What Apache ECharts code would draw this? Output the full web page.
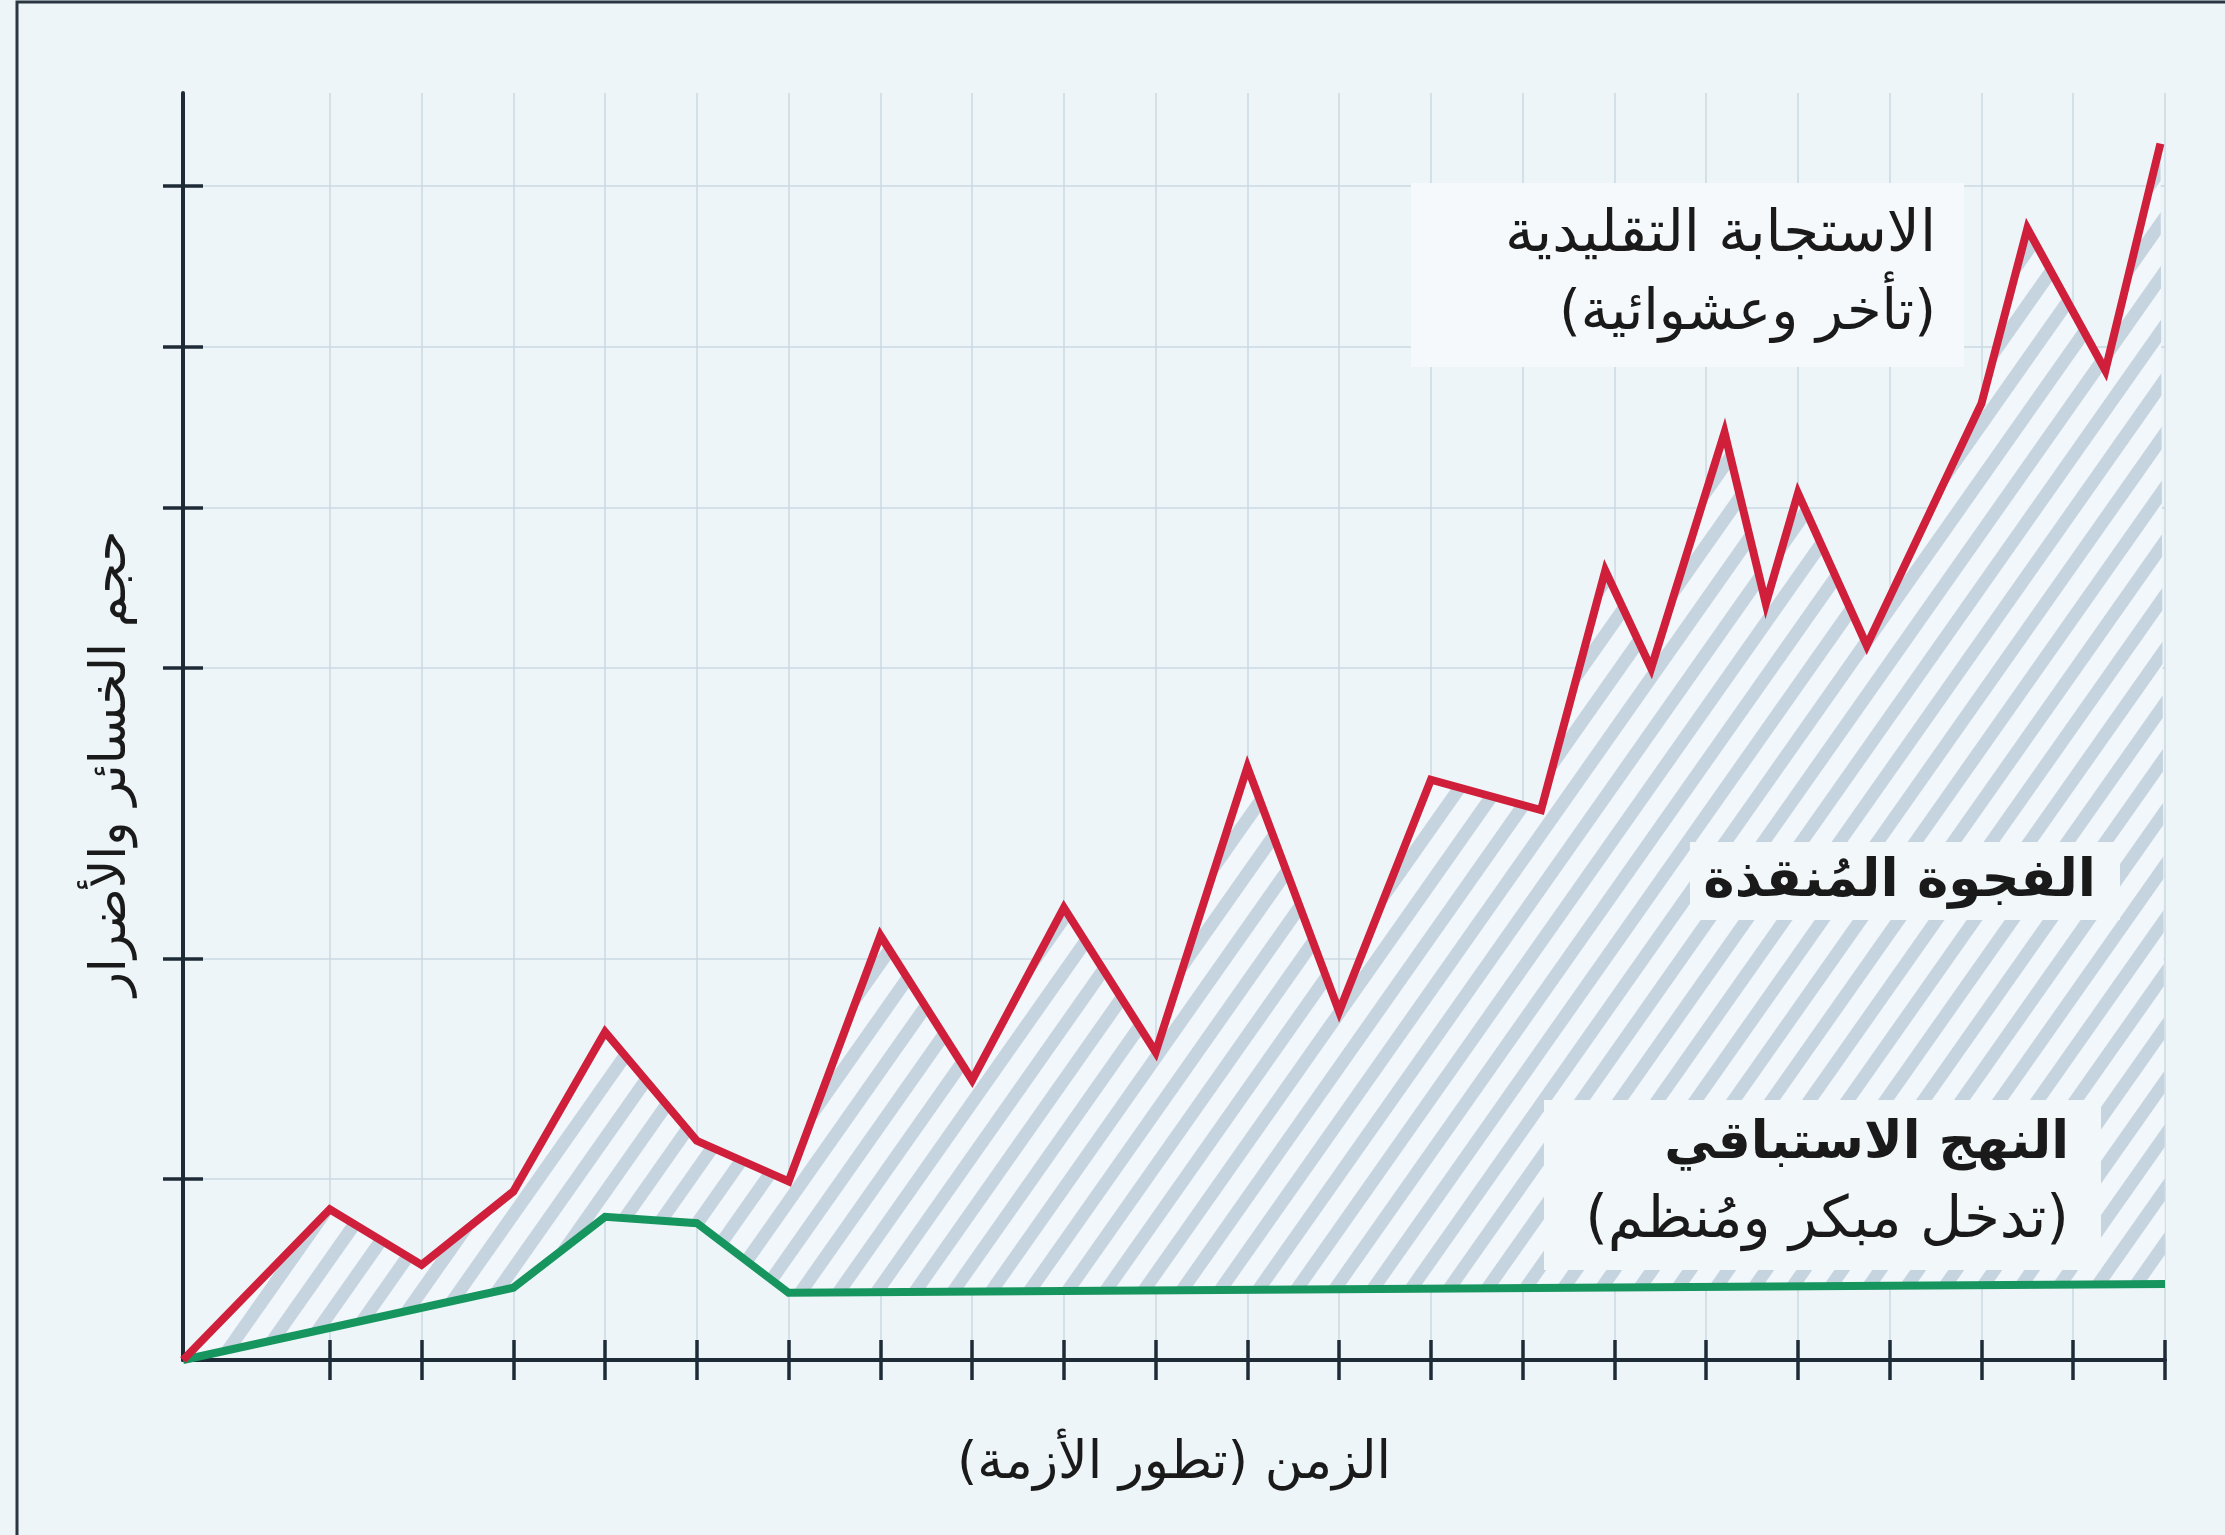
<!DOCTYPE html>
<html>
<head>
<meta charset="utf-8">
<title>الفجوة المنقذة</title>
<script src="https://cdn.jsdelivr.net/npm/echarts@6/dist/echarts.min.js"></script>
<style>
html, body { margin: 0; padding: 0; background: #edf5f9; }
#chart { width: 2225px; height: 1535px; }
</style>
</head>
<body>
<div id="chart"></div>
<script>
// time runs in grid steps, losses on a 0..100 scale
var xTicks = [1.6, 2.6, 3.6, 4.6, 5.6, 6.6, 7.6, 8.6, 9.6, 10.6, 11.6, 12.6, 13.6, 14.6, 15.6, 16.6, 17.6, 18.6, 19.6, 20.6, 21.6];
var yTicks = [14.3, 31.7, 54.6, 67.3, 80.0, 92.7];

// traditional response (red)
var redX = [0, 1.6, 2.6, 3.6, 4.6, 5.6, 6.6, 7.6, 8.6, 9.6, 10.6, 11.6, 12.6, 13.6, 14.8, 15.5, 16.0, 16.8, 17.25, 17.6, 18.35, 19.6, 20.1, 20.95, 21.55];
var redY = [0, 11.9, 7.5, 13.3, 25.9, 17.3, 14.1, 33.5, 22.1, 35.7, 24.3, 46.8, 27.5, 45.8, 43.4, 62.3, 54.6, 73.2, 59.7, 68.4, 56.4, 75.5, 89.3, 78.1, 96.0];

// proactive approach (green)
var greenX = [0, 3.6, 4.6, 5.6, 6.6, 21.6];
var greenY = [0, 5.7, 11.3, 10.8, 5.3, 6.0];

function pairs(xs, ys) {
	var res = [];
	for (var i = 0; i < xs.length; i++) {
		res.push([xs[i], ys[i]]);
	}
	return res;
}

// diagonal hatch tile
function stripes() {
	var w = 38, h = 54;
	var c = document.createElement('canvas');
	c.width = w; c.height = h;
	var g = c.getContext('2d');
	g.fillStyle = '#f1f7fa';
	g.fillRect(0, 0, w, h);
	g.strokeStyle = '#c5d4df';
	g.lineWidth = 13;
	for (var i = -3; i <= 3; i++) {
		g.beginPath();
		g.moveTo(i * w - w, 2 * h);
		g.lineTo(i * w + 2 * w, -h);
		g.stroke();
	}
	return c;
}
var hatch = { image: stripes(), repeat: 'repeat' };

var axisColor = '#1e2b37';
var font = '"DejaVu Sans", sans-serif';

var chart = echarts.init(document.getElementById('chart'));
var option = {
	backgroundColor: '#edf5f9',
	animation: false,
	grid: { left: 183, right: 60, top: 93, bottom: 175, outerBoundsMode: 'none' },
	xAxis: [{
		type: 'value', min: 0, max: 21.6, position: 'bottom',
		axisLine: { show: true, lineStyle: { color: axisColor, width: 4 } },
		axisTick: { show: true, customValues: xTicks, length: 20, lineStyle: { color: axisColor, width: 3.5 } },
		axisLabel: { show: false },
		splitLine: { show: true, lineStyle: { color: '#cbd8e2', width: 1.5 } },
		name: 'الزمن (تطور الأزمة)',
		nameLocation: 'middle',
		nameGap: 78,
		nameTextStyle: { fontFamily: font, fontSize: 52, color: '#1a1a1a' }
	}, {
		type: 'value', min: 0, max: 21.6, position: 'bottom',
		axisLine: { show: false },
		axisTick: { show: true, inside: true, customValues: xTicks, length: 20, lineStyle: { color: axisColor, width: 3.5 } },
		axisLabel: { show: false },
		splitLine: { show: false }
	}],
	yAxis: [{
		type: 'value', min: 0, max: 100, position: 'left',
		axisLine: { show: true, lineStyle: { color: axisColor, width: 4 } },
		axisTick: { show: true, customValues: yTicks, length: 20, lineStyle: { color: axisColor, width: 3.5 } },
		axisLabel: { show: false },
		splitLine: { show: true, lineStyle: { color: '#cbd8e2', width: 1.5 } },
		name: 'حجم الخسائر والأضرار',
		nameLocation: 'middle',
		nameRotate: 90,
		nameGap: 46,
		nameTextStyle: { fontFamily: font, fontSize: 50, color: '#1a1a1a', padding: [0, 74, 0, 0] }
	}, {
		type: 'value', min: 0, max: 100, position: 'left',
		axisLine: { show: false },
		axisTick: { show: true, inside: true, customValues: yTicks, length: 20, lineStyle: { color: axisColor, width: 3.5 } },
		axisLabel: { show: false },
		splitLine: { show: false }
	}],
	series: [{
		// the saved gap between the two responses
		name: 'الفجوة المنقذة',
		type: 'custom',
		data: [[0, 0]],
		encode: { x: 0, y: 1 },
		silent: true,
		z: 1,
		renderItem: function (params, api) {
			var pts = [];
			for (var i = 0; i < redX.length; i++) {
				pts.push(api.coord([redX[i], redY[i]]));
			}
			for (var j = greenX.length - 1; j >= 0; j--) {
				pts.push(api.coord([greenX[j], greenY[j]]));
			}
			return { type: 'polygon', shape: { points: pts }, style: { fill: hatch } };
		}
	}, {
		name: 'النهج الاستباقي',
		type: 'line',
		data: pairs(greenX, greenY),
		symbol: 'none',
		lineStyle: { color: '#17955f', width: 8, join: 'miter' },
		z: 3
	}, {
		name: 'الاستجابة التقليدية',
		type: 'line',
		data: pairs(redX, redY),
		symbol: 'none',
		lineStyle: { color: '#cf1f3b', width: 8, join: 'miter' },
		z: 4
	}],
	graphic: [
		{ type: 'rect', z: 50, silent: true, shape: { x: 1411, y: 183, width: 553, height: 184 }, style: { fill: '#f5f9fb' } },
		{ type: 'text', z: 51, x: 1936, y: 236, style: { text: 'الاستجابة التقليدية', font: '58px ' + font, fill: '#1a1a1a', align: 'right', verticalAlign: 'middle' } },
		{ type: 'text', z: 51, x: 1936, y: 314, style: { text: '(تأخر وعشوائية)', font: '56px ' + font, fill: '#1a1a1a', align: 'right', verticalAlign: 'middle' } },

		{ type: 'rect', z: 50, silent: true, shape: { x: 1690, y: 842, width: 430, height: 78 }, style: { fill: '#f2f7fa' } },
		{ type: 'text', z: 51, x: 2096, y: 882, style: { text: 'الفجوة المُنقذة', font: 'bold 53px ' + font, fill: '#1a1a1a', align: 'right', verticalAlign: 'middle' } },

		{ type: 'rect', z: 50, silent: true, shape: { x: 1544, y: 1100, width: 557, height: 170 }, style: { fill: '#f2f7fa' } },
		{ type: 'text', z: 51, x: 2069, y: 1144, style: { text: 'النهج الاستباقي', font: 'bold 52px ' + font, fill: '#1a1a1a', align: 'right', verticalAlign: 'middle' } },
		{ type: 'text', z: 51, x: 2069, y: 1222, style: { text: '(تدخل مبكر ومُنظم)', font: '58px ' + font, fill: '#1a1a1a', align: 'right', verticalAlign: 'middle' } },

		// frame
		{ type: 'rect', z: 60, silent: true, shape: { x: 17, y: 2, width: 2400, height: 1700 }, style: { fill: 'none', stroke: '#2a3641', lineWidth: 3 } }
	]
};
chart.setOption(option);
</script>
</body>
</html>
